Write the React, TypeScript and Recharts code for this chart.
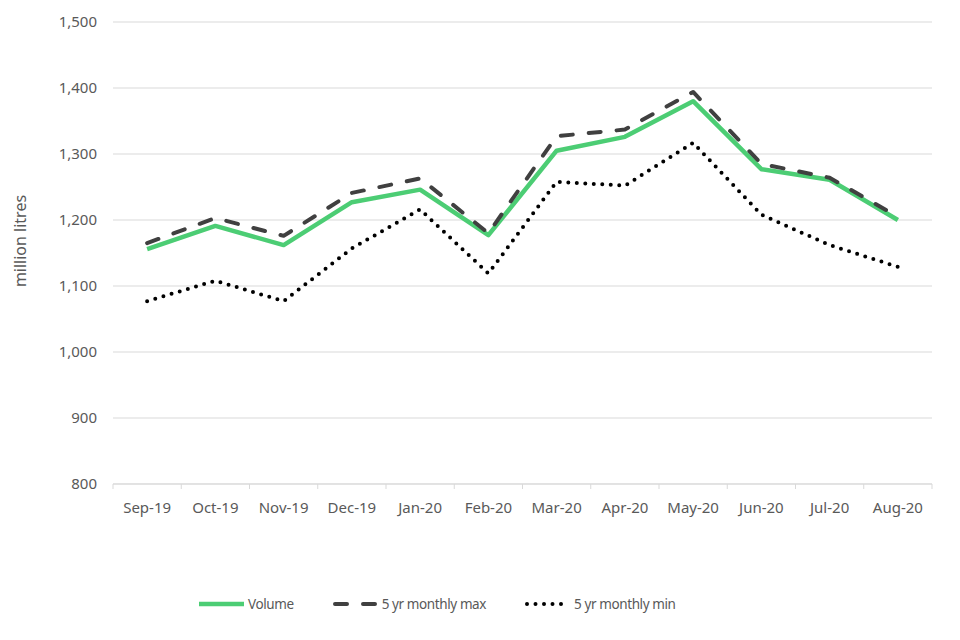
import { LineChart, Line, XAxis, YAxis, CartesianGrid, Legend } from "recharts"

const months = ["Sep-19", "Oct-19", "Nov-19", "Dec-19", "Jan-20", "Feb-20", "Mar-20", "Apr-20", "May-20", "Jun-20", "Jul-20", "Aug-20"]
const volume = [1156, 1191, 1162, 1227, 1246, 1177, 1305, 1326, 1380, 1277, 1261, 1200]
const maxVals = [1165, 1203, 1176, 1241, 1263, 1180, 1327, 1337, 1394, 1285, 1264, 1205]
const minVals = [1077, 1108, 1077, 1157, 1216, 1119, 1258, 1252, 1317, 1208, 1162, 1129]
const yTicks = [800, 900, 1000, 1100, 1200, 1300, 1400, 1500]

const data = months.map((m, i) => ({ month: m, volume: volume[i], max: maxVals[i], min: minVals[i] }))

const series = [
  { key: "volume", name: "Volume", color: "#4ccd74", width: 4.5, dash: undefined, cap: "butt" },
  { key: "max", name: "5 yr monthly max", color: "#404040", width: 4, dash: "12 16", cap: "round" },
  { key: "min", name: "5 yr monthly min", color: "#000000", width: 4, dash: "0 8.5", cap: "round" },
]

const W = 960
const H = 640
const margin = { top: 22, right: 28, left: 0, bottom: 102 }
const yAxisWidth = 113
const half = (W - margin.right - yAxisWidth) / months.length / 2

const text = "#595959"
const grid = "#d9d9d9"

// month label plus the small tick marks at the band boundaries
const MonthTick = ({ x, y, payload, index }: any) => (
  <g>
    <line x1={x - half} x2={x - half} y1={y} y2={y + 5} stroke={grid} />
    {index === months.length - 1 && <line x1={x + half} x2={x + half} y1={y} y2={y + 5} stroke={grid} />}
    <text x={x} y={y + 18} dy="0.71em" textAnchor="middle" fill={text} fontSize={15}>{payload.value}</text>
  </g>
)

const YLabel = ({ viewBox }: any) => {
  const x = viewBox.x + 20
  const y = viewBox.y + viewBox.height / 2 - 12
  return (
    <text x={x} y={y} transform={`rotate(-90 ${x} ${y})`} textAnchor="middle" dominantBaseline="central" fill={text} fontSize={16}>
      million litres
    </text>
  )
}

const renderLegend = () => (
  <div style={{ display: "flex", alignItems: "center", paddingLeft: 199, fontSize: 13.5, letterSpacing: -0.4, color: text, height: 24 }}>
    {series.map((s) => (
      <div key={s.key} style={{ display: "flex", alignItems: "center", marginRight: 39 }}>
        <svg width={45} height={10} style={{ marginRight: 4 }}>
          <line x1={s.cap === "round" ? 2 : 0} y1={5} x2={s.cap === "round" ? 43 : 45} y2={5}
            stroke={s.color} strokeWidth={s.width} strokeDasharray={s.dash} strokeLinecap={s.cap as any} />
        </svg>
        <span>{s.name}</span>
      </div>
    ))}
  </div>
)

export default function App() {
  return (
    <div style={{ position: "absolute", left: 0, top: 0, fontFamily: "'Noto Sans', sans-serif" }}>
      <LineChart width={W} height={H} data={data} margin={margin}>
        <CartesianGrid vertical={false} stroke={grid} />
        <XAxis dataKey="month" interval={0} padding={{ left: half, right: half }} height={30}
          axisLine={{ stroke: grid }} tickLine={false} tickSize={0} tickMargin={0}
          tick={<MonthTick />} />
        <YAxis width={yAxisWidth} domain={[800, 1500]} ticks={yTicks} axisLine={false} tickLine={false}
          tickSize={0} tickMargin={16} tick={{ fill: text, fontSize: 15 }}
          tickFormatter={(v: number) => v.toLocaleString("en-GB")}
          label={{ value: "million litres", content: YLabel }} />
        <Legend verticalAlign="bottom" content={renderLegend} wrapperStyle={{ top: 592, bottom: "auto", left: 0, width: W }} />
        {series.map((s) => (
          <Line key={s.key} dataKey={s.key} name={s.name} stroke={s.color} strokeWidth={s.width}
            strokeDasharray={s.dash} strokeLinecap={s.cap as any} strokeLinejoin="round"
            dot={false} activeDot={false} isAnimationActive={false} />
        ))}
      </LineChart>
    </div>
  )
}
